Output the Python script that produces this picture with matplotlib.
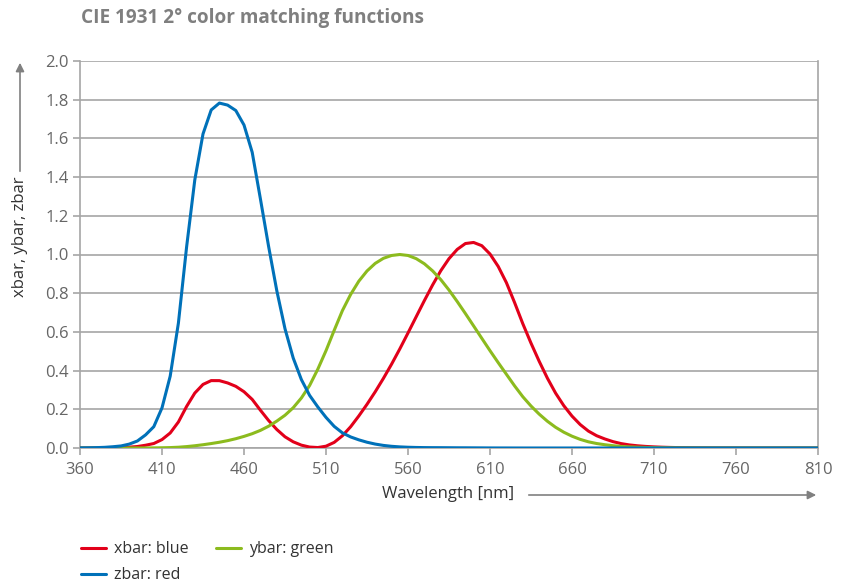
import numpy as np
import matplotlib
matplotlib.use("Agg")
from matplotlib import pyplot as plt

# CIE 1931 2 degree colour matching functions, 5 nm steps, 360..810 nm
wavelength = np.arange(360, 815, 5)

xbar = [0.000130, 0.000232, 0.000415, 0.000742, 0.001368, 0.002236, 0.004243, 0.007650,
        0.014310, 0.023190, 0.043510, 0.077630, 0.134380, 0.214770, 0.283900, 0.328500,
        0.348280, 0.348060, 0.336200, 0.318700, 0.290800, 0.251100, 0.195360, 0.142100,
        0.095640, 0.057950, 0.032010, 0.014700, 0.004900, 0.002400, 0.009300, 0.029100,
        0.063270, 0.109600, 0.165500, 0.225750, 0.290400, 0.359700, 0.433450, 0.512050,
        0.594500, 0.678400, 0.762100, 0.842500, 0.916300, 0.978600, 1.026300, 1.056700,
        1.062200, 1.045600, 1.002600, 0.938400, 0.854450, 0.751400, 0.642400, 0.541900,
        0.447900, 0.360800, 0.283500, 0.218700, 0.164900, 0.121200, 0.087400, 0.063600,
        0.046770, 0.032900, 0.022700, 0.015840, 0.011359, 0.008111, 0.005790, 0.004109,
        0.002899, 0.002049, 0.001440, 0.001000, 0.000690, 0.000476, 0.000332, 0.000235,
        0.000166, 0.000117, 0.000083, 0.000059, 0.000042, 0.000029, 0.000021, 0.000015,
        0.000010, 0.000007, 0.000005]

ybar = [0.000004, 0.000007, 0.000012, 0.000022, 0.000039, 0.000064, 0.000120, 0.000217,
        0.000396, 0.000640, 0.001210, 0.002180, 0.004000, 0.007300, 0.011600, 0.016840,
        0.023000, 0.029800, 0.038000, 0.048000, 0.060000, 0.073900, 0.090980, 0.112600,
        0.139020, 0.169300, 0.208020, 0.258600, 0.323000, 0.407300, 0.503000, 0.608200,
        0.710000, 0.793200, 0.862000, 0.914850, 0.954000, 0.980300, 0.994950, 1.000000,
        0.995000, 0.978600, 0.952000, 0.915400, 0.870000, 0.816300, 0.757000, 0.694900,
        0.631000, 0.566800, 0.503000, 0.441200, 0.381000, 0.321000, 0.265000, 0.217000,
        0.175000, 0.138200, 0.107000, 0.081600, 0.061000, 0.044580, 0.032000, 0.023200,
        0.017000, 0.011920, 0.008210, 0.005723, 0.004102, 0.002929, 0.002091, 0.001484,
        0.001047, 0.000740, 0.000520, 0.000361, 0.000249, 0.000172, 0.000120, 0.000085,
        0.000060, 0.000042, 0.000030, 0.000021, 0.000015, 0.000011, 0.000008, 0.000005,
        0.000004, 0.000003, 0.000002]

zbar = [0.000606, 0.001086, 0.001946, 0.003486, 0.006450, 0.010550, 0.020050, 0.036210,
        0.067850, 0.110200, 0.207400, 0.371300, 0.645600, 1.039050, 1.385600, 1.622960,
        1.747060, 1.782600, 1.772110, 1.744100, 1.669200, 1.528100, 1.287640, 1.041900,
        0.812950, 0.616200, 0.465180, 0.353300, 0.272000, 0.212300, 0.158200, 0.111700,
        0.078250, 0.057250, 0.042160, 0.029840, 0.020300, 0.013400, 0.008750, 0.005750,
        0.003900, 0.002750, 0.002100, 0.001800, 0.001650, 0.001400, 0.001100, 0.001000,
        0.000800, 0.000600, 0.000340, 0.000240, 0.000190, 0.000100, 0.000050, 0.000030,
        0.000020, 0.000010] + [0.0] * 33

x_ticks = [360, 410, 460, 510, 560, 610, 660, 710, 760, 810]
y_ticks = [0.0, 0.2, 0.4, 0.6, 0.8, 1.0, 1.2, 1.4, 1.6, 1.8, 2.0]

red = '#e2001a'
green = '#8cbb1e'
blue = '#0071b9'
grey = '#666666'
grid_grey = '#a6a6a6'

plt.rcParams['font.family'] = ['Open Sans', 'DejaVu Sans']

fig = plt.figure(figsize=(8.43, 5.83), dpi=100)
ax = fig.add_axes([80 / 843, 1 - 448 / 583, 738 / 843, 387 / 583])

line_kw = dict(lw=2.2, solid_joinstyle='round', solid_capstyle='round')
lx, = ax.plot(wavelength, xbar, color=red, label='xbar: blue', zorder=3, **line_kw)
ly, = ax.plot(wavelength, ybar, color=green, label='ybar: green', zorder=3, **line_kw)
lz, = ax.plot(wavelength, zbar, color=blue, label='zbar: red', zorder=4, **line_kw)

ax.set_xlim(360, 810)
ax.set_ylim(0, 2.0)
ax.set_xticks(x_ticks)
ax.set_yticks(y_ticks)
ax.set_yticklabels(['%.1f' % v for v in y_ticks])
ax.yaxis.grid(True, color=grid_grey, lw=1.2)
ax.set_axisbelow(True)
ax.tick_params(colors=grid_grey, labelcolor=grey, labelsize=12, length=5, width=1.2)
ax.tick_params(axis='x', pad=5)
ax.tick_params(axis='y', pad=3)
for side in ['left', 'right', 'bottom']:
    ax.spines[side].set_color(grid_grey)
    ax.spines[side].set_linewidth(1.2)
ax.spines['top'].set_visible(False)

fig.text(81 / 843, 1 - 18 / 583, 'CIE 1931 2\u00b0 color matching functions',
         fontsize=13.7, fontweight='bold', color='#7f7f7f', va='center', ha='left')

# axis labels with arrows
fig.text(20 / 843, 1 - 237 / 583, 'xbar, ybar, zbar', rotation=90, fontsize=12,
         color='#333333', ha='center', va='center')
fig.add_artist(matplotlib.patches.FancyArrowPatch(
    (20 / 843, 1 - 174 / 583), (20 / 843, 1 - 60 / 583), transform=fig.transFigure,
    arrowstyle='-|>,head_length=5,head_width=2.5', color='#808080', lw=1.2))
fig.text(448 / 843, 1 - 494 / 583, 'Wavelength [nm]', fontsize=12,
         color='#333333', ha='center', va='center')
fig.add_artist(matplotlib.patches.FancyArrowPatch(
    (526 / 843, 1 - 495 / 583), (819 / 843, 1 - 495 / 583), transform=fig.transFigure,
    arrowstyle='-|>,head_length=5,head_width=2.5', color='#808080', lw=1.2))

fig.legend(handles=[lx, lz, ly], loc='upper left', bbox_to_anchor=(67 / 843, 1 - 527 / 583),
           ncol=2, frameon=False, fontsize=11.5, handlelength=1.56, handletextpad=0.5,
           columnspacing=1.7, labelspacing=0.62, labelcolor='#333333')

fig.savefig('out.png', dpi=100)
